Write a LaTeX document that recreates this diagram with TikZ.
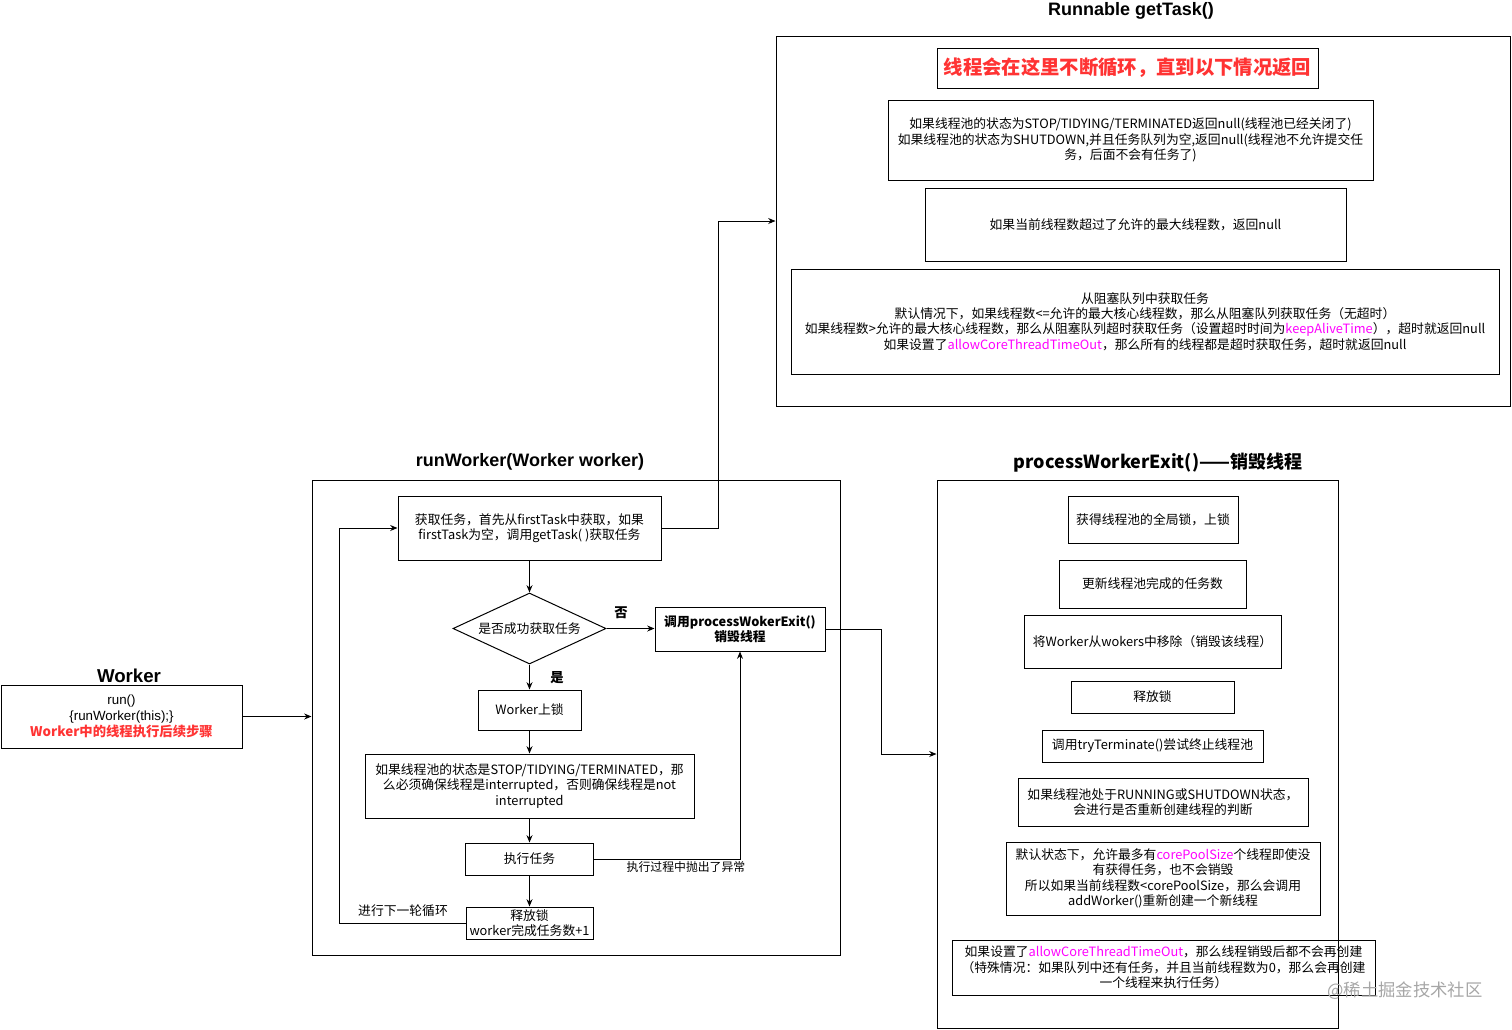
\documentclass[tikz,border=0pt]{standalone}
\usepackage{fontspec}
\setmainfont{Noto Sans CJK SC}
\newfontfamily\arialfont{Liberation Sans}
\usetikzlibrary{shapes.geometric,arrows.meta}
\definecolor{hotred}{RGB}{255,51,51}
\definecolor{keypink}{RGB}{255,0,255}
\newcommand{\keyword}[1]{\textcolor{keypink}{#1}}

\tikzset{every picture/.style={line width=0.75pt}}
\tikzset{
  box/.style={draw, inner sep=1pt, align=center, font=\fontsize{9.6}{11.6}\selectfont},
  flow/.style={-{Stealth[length=5.5pt,width=4.5pt]}},
  heading/.style={inner sep=0.75pt, font=\bfseries\fontsize{13.5}{16}\selectfont},
  note/.style={inner sep=0.75pt, font=\fontsize{9.6}{11.6}\selectfont},
}

\begin{document}
\begin{tikzpicture}[x=0.75pt,y=0.75pt,yscale=-1,xscale=1]
\useasboundingbox (0,0) rectangle (1512,1029);

%Shape: getTask() group
\node[box, minimum width=550.5pt, minimum height=277.5pt] (gettask) at (1143,221) {};
\node[heading, font=\arialfont\bfseries\fontsize{13.5}{16}\selectfont] (gettasktitle) at (1131,11) {Runnable getTask()};
\node[box, minimum width=285.75pt, minimum height=30pt, text=hotred, font=\bfseries\fontsize{14.5}{17}\selectfont] (loopnote) at (1127.5,68) {线程会在这里不断循环，直到以下情况返回};
\node[box, minimum width=363.75pt, minimum height=60pt] (gtstop) at (1130.5,140) {如果线程池的状态为STOP/TIDYING/TERMINATED返回null(线程池已经关闭了)\\如果线程池的状态为SHUTDOWN,并且任务队列为空,返回null(线程池不允许提交任\\务，后面不会有任务了)};
\node[box, minimum width=315.75pt, minimum height=54.75pt] (gtmax) at (1135.5,224.5) {如果当前线程数超过了允许的最大线程数，返回null};
\node[box, minimum width=531pt, minimum height=78.75pt] (gtqueue) at (1145,321.5) {从阻塞队列中获取任务\\默认情况下，如果线程数<=允许的最大核心线程数，那么从阻塞队列获取任务（无超时）\\如果线程数>允许的最大核心线程数，那么从阻塞队列超时获取任务（设置超时时间为\keyword{keepAliveTime}），超时就返回null\\如果设置了\keyword{allowCoreThreadTimeOut}，那么所有的线程都是超时获取任务，超时就返回null};

%Shape: Worker
\node[heading, font=\arialfont\bfseries\fontsize{14}{16}\selectfont] (workertitle) at (129,676) {Worker};
\node[box, minimum width=180.75pt, minimum height=47.25pt, font=\fontsize{10}{12}\selectfont] (worker) at (121.5,716.5) {{\arialfont run()}\\{\arialfont\{runWorker(this);\}}\\\textcolor{hotred}{\bfseries Worker中的线程执行后续步骤}};

%Shape: runWorker() group
\node[box, minimum width=396pt, minimum height=356.25pt] (runworker) at (576,717.5) {};
\node[heading, font=\arialfont\bfseries\fontsize{13.5}{16}\selectfont] (runworkertitle) at (530,462) {runWorker(Worker worker)};
\node[box, minimum width=197.25pt, minimum height=48pt] (fetch) at (529.5,528) {获取任务，首先从firstTask中获取，如果\\firstTask为空，调用getTask( )获取任务};
\node[box, diamond, aspect=2.15, inner sep=0pt, minimum width=114.75pt, minimum height=53.25pt] (ask) at (529.5,628.5) {是否成功获取任务};
\node[box, minimum width=127.5pt, minimum height=33pt, font=\bfseries\fontsize{9.6}{11.6}\selectfont] (exitcall) at (740,629) {调用processWokerExit()\\销毁线程};
\node[box, minimum width=77.25pt, minimum height=30pt] (lock) at (529.5,710) {Worker上锁};
\node[box, minimum width=246.75pt, minimum height=48pt] (state) at (529.5,786) {如果线程池的状态是STOP/TIDYING/TERMINATED，那\\么必须确保线程是interrupted，否则确保线程是not\\interrupted};
\node[box, minimum width=96pt, minimum height=24pt] (runtask) at (529.5,859) {执行任务};
\node[box, minimum width=95.25pt, minimum height=24pt, inner sep=0.5pt] (release) at (529.5,923) {释放锁\\worker完成任务数+1};

% Text Node
\node[note, font=\bfseries\fontsize{10}{12}\selectfont] (nolabel) at (621,613) {否};
\node[note, font=\bfseries\fontsize{10}{12}\selectfont] (yeslabel) at (557,678) {是};
\node[note, font=\fontsize{8.9}{11}\selectfont] (errlabel) at (686,867) {执行过程中抛出了异常};
\node[note] (looplabel) at (403,911) {进行下一轮循环};

%Shape: processWorkerExit() group
\node[box, minimum width=300.75pt, minimum height=411pt] (exitproc) at (1137.5,754) {};
\node[heading] (exitproctitle) at (1158,463) {processWorkerExit()——销毁线程};
\node[box, minimum width=127.5pt, minimum height=35.25pt] (pglobal) at (1153,519.5) {获得线程池的全局锁，上锁};
\node[box, minimum width=140.25pt, minimum height=36pt] (pcount) at (1152.5,584) {更新线程池完成的任务数};
\node[box, minimum width=192.75pt, minimum height=39.75pt] (premove) at (1152.5,641.5) {将Worker从wokers中移除（销毁该线程）};
\node[box, minimum width=122.25pt, minimum height=24pt] (punlock) at (1152.5,697) {释放锁};
\node[box, minimum width=165.75pt, minimum height=24pt] (pterm) at (1152.5,746) {调用tryTerminate()尝试终止线程池};
\node[box, minimum width=217.5pt, minimum height=36pt] (pstate) at (1163,802) {如果线程池处于RUNNING或SHUTDOWN状态，\\会进行是否重新创建线程的判断};
\node[box, minimum width=235.5pt, minimum height=54.75pt] (pcore) at (1163,878.5) {默认状态下，允许最多有\keyword{corePoolSize}个线程即使没\\有获得任务，也不会销毁\\所以如果当前线程数<corePoolSize，那么会调用\\addWorker()重新创建一个新线程};
\node[box, minimum width=317.25pt, minimum height=41.25pt] (ptimeout) at (1163.5,967.5) {如果设置了\keyword{allowCoreThreadTimeOut}，那么线程销毁后都不会再创建\\（特殊情况：如果队列中还有任务，并且当前线程数为0，那么会再创建\\一个线程来执行任务）};

% Text Node
\node[note, text=black!35, font=\fontsize{13}{15}\selectfont] (mark) at (1405,991) {@稀土掘金技术社区};

%Straight Lines
\draw[flow] (worker.east) -- (worker.east -| runworker.west);
\draw[flow] (fetch.east) -- ++(57,0) |- (gettask.west);
\draw[flow] (fetch.south) -- (ask.north);
\draw[flow] (ask.east) -- (exitcall.west |- ask.east);
\draw[flow] (ask.south) -- (lock.north);
\draw[flow] (lock.south) -- (state.north);
\draw[flow] (state.south) -- (runtask.north);
\draw[flow] (runtask.south) -- (release.north);
\draw[flow] (runtask.east) -| (exitcall.south);
\draw[flow] (release.west) -- ++(-126,0) |- (fetch.west);
\draw[flow] (exitcall.east) -- ++(56,0) |- (exitproc.west);

\end{tikzpicture}
\end{document}
